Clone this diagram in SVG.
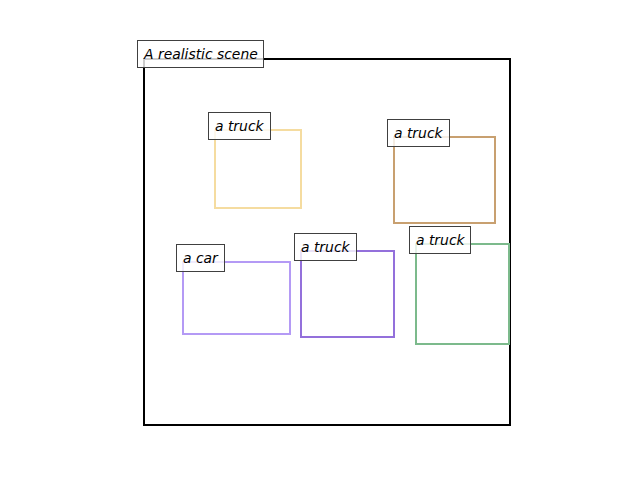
<svg xmlns="http://www.w3.org/2000/svg" width="640" height="480" viewBox="0 0 640 480">
<style>
.box{fill:none;stroke-width:2}
.lb{fill:#ffffff;fill-opacity:0.8;stroke:#404040;stroke-width:1}
.t{font-family:"DejaVu Sans",sans-serif;font-style:italic;font-size:13.9px;fill:#000}
</style>
<rect x="0" y="0" width="640" height="480" fill="#ffffff"/>
<g id="frame"><rect x="144" y="59" width="366" height="366" fill="none" stroke="#000" stroke-width="2"/></g>
<g id="connectors"></g>
<g id="truck1">
<rect class="box" x="215" y="130" width="86" height="78" stroke="#f5dca0"/>
<rect class="lb" x="208.5" y="112.5" width="62" height="27"/>
<text class="t" x="215" y="131">a truck</text>
</g>
<g id="truck2">
<rect class="box" x="394" y="137" width="101" height="86" stroke="#c8a070"/>
<rect class="lb" x="387.5" y="119.5" width="62" height="27"/>
<text class="t" x="394" y="138">a truck</text>
</g>
<g id="car">
<rect class="box" x="183" y="262" width="107" height="72" stroke="#b49af5"/>
<rect class="lb" x="176.5" y="244.5" width="48" height="27"/>
<text class="t" x="183" y="263">a car</text>
</g>
<g id="truck3">
<rect class="box" x="301" y="251" width="93" height="86" stroke="#9370db"/>
<rect class="lb" x="294.5" y="233.5" width="62" height="27"/>
<text class="t" x="301" y="252">a truck</text>
</g>
<g id="truck4">
<rect class="box" x="416" y="244" width="93" height="100" stroke="#7cba8c"/>
<rect class="lb" x="409.5" y="226.5" width="61" height="27"/>
<text class="t" x="416" y="245">a truck</text>
</g>
<g id="title">
<rect class="lb" x="137.5" y="40.5" width="126" height="27"/>
<text class="t" x="144" y="59">A realistic scene</text>
</g>
</svg>
